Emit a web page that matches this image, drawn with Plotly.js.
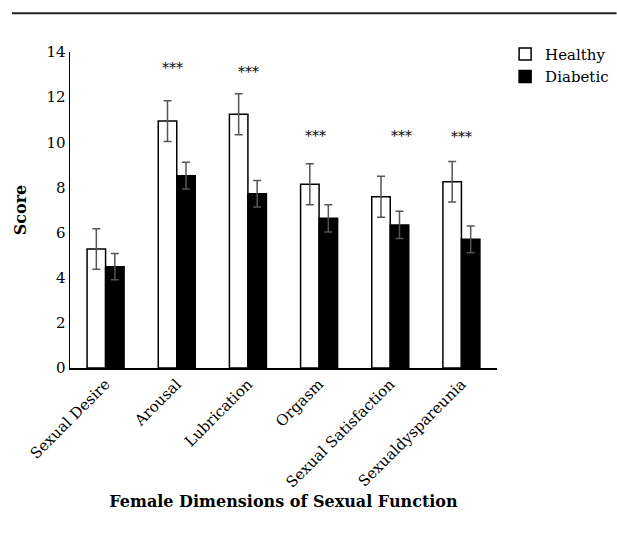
<!DOCTYPE html>
<html>
<head>
<meta charset="utf-8">
<script src="https://cdn.plot.ly/plotly-3.0.1.min.js"></script>
<style>html,body{margin:0;padding:0;background:#fff;}#chart{width:617px;height:535px;}</style>
</head>
<body>
<div id="chart"></div>
<script>
const categories = ["Sexual Desire", "Arousal", "Lubrication", "Orgasm", "Sexual Satisfaction", "Sexualdyspareunia"];
const healthy = [5.27, 10.94, 11.24, 8.14, 7.59, 8.25];
const healthyErr = [0.9, 0.9, 0.91, 0.91, 0.91, 0.9];
const diabetic = [4.49, 8.52, 7.72, 6.63, 6.34, 5.70];
const diabeticErr = [0.58, 0.59, 0.59, 0.6, 0.6, 0.59];
const sigLabels = ["", "***", "***", "***", "***", "***"];
const sigY = [null, 13.3, 13.1, 10.3, 10.3, 10.25];
const sigShift = [0, -0.06, 0.01, -0.05, 0.16, 0];
const yTicks = [0, 2, 4, 6, 8, 10, 12, 14];

const FONT = "DejaVu Serif, Liberation Serif, serif";

const traces = [
  {
    type: "bar", name: "Healthy", x: categories, y: healthy,
    marker: {color: "#ffffff", line: {color: "#000000", width: 1.5}},
    error_y: {type: "data", array: healthyErr, visible: true, color: "#555555", thickness: 1.5, width: 4}
  },
  {
    type: "bar", name: "Diabetic", x: categories, y: diabetic,
    marker: {color: "#000000", line: {color: "#000000", width: 1.5}},
    error_y: {type: "data", array: diabeticErr, visible: true, color: "#555555", thickness: 1.5, width: 4}
  }
];

const annotations = [];
sigLabels.forEach((s, i) => {
  if (!s) return;
  annotations.push({
    xref: "x", yref: "y", x: i + sigShift[i], y: sigY[i], text: s, showarrow: false,
    font: {family: FONT, size: 14, color: "#000"}
  });
});

const layout = {
  width: 617, height: 535,
  margin: {l: 70, r: 120, t: 52, b: 167, autoexpand: false},
  paper_bgcolor: "#fff", plot_bgcolor: "#fff",
  barmode: "group", bargap: 0.48, bargroupgap: 0,
  font: {family: FONT, size: 15, color: "#000"},
  xaxis: {
    type: "category",
    showline: true, linecolor: "#000", linewidth: 1.5,
    ticks: "", tickangle: -45, tickfont: {family: FONT, size: 15},
    title: {text: "<b>Female Dimensions of Sexual Function</b>", font: {family: FONT, size: 16}, standoff: 5},
    automargin: false
  },
  yaxis: {
    range: [0, 14], tickvals: yTicks, ticktext: yTicks.map(String),
    showline: true, linecolor: "#000", linewidth: 1.5,
    showgrid: false, zeroline: false, ticks: "",
    tickfont: {family: FONT, size: 15},
    title: {text: "<b>Score</b>", font: {family: FONT, size: 16}, standoff: 16},
    automargin: false
  },
  showlegend: true,
  legend: {
    x: 1.019, y: 1.045, xanchor: "left", yanchor: "top",
    font: {family: FONT, size: 15}, itemwidth: 30, tracegroupgap: 0,
    bgcolor: "rgba(0,0,0,0)"
  },
  annotations: annotations,
  shapes: [{
    type: "line", xref: "paper", yref: "paper",
    x0: -0.136, x1: 1.28, y0: 1.123, y1: 1.123,
    line: {color: "#222", width: 2}
  }]
};

Plotly.newPlot("chart", traces, layout, {displayModeBar: false, staticPlot: true});
</script>
</body>
</html>
